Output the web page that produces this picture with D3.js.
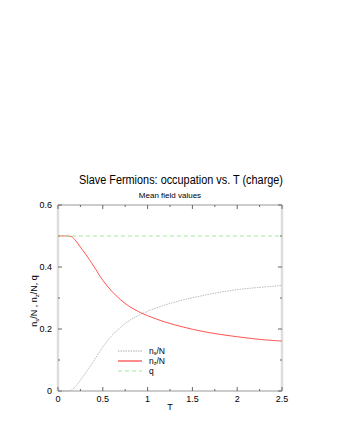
<!DOCTYPE html>
<html>
<head>
<meta charset="utf-8">
<script src="https://cdn.jsdelivr.net/npm/d3@7"></script>
<style>
  body { margin: 0; background: #fff; }
  svg text { font-family: "Liberation Sans", Arial, sans-serif; fill: #000; }
</style>
</head>
<body>
<svg id="chart" width="340" height="440"></svg>
<script>
// values
let temps = [0, 0.1, 0.15, 0.2, 0.25, 0.3, 0.35, 0.4, 0.5, 0.6, 0.7, 0.8, 0.9, 1.0, 1.2, 1.4, 1.6, 1.8, 2.0, 2.2, 2.4, 2.5];
let nS = [0, 0, 0.003, 0.016, 0.035, 0.055, 0.076, 0.097, 0.142, 0.178, 0.206, 0.228, 0.244, 0.257, 0.278, 0.294, 0.307, 0.318, 0.327, 0.333, 0.338, 0.341];
let nZ = [0.5, 0.5, 0.498, 0.484, 0.464, 0.445, 0.424, 0.402, 0.357, 0.322, 0.294, 0.272, 0.256, 0.243, 0.222, 0.206, 0.193, 0.183, 0.175, 0.168, 0.163, 0.161];
let qVals = [0.5, 0.5, 0.5, 0.5, 0.5, 0.5, 0.5, 0.5, 0.5, 0.5, 0.5, 0.5, 0.5, 0.5, 0.5, 0.5, 0.5, 0.5, 0.5, 0.5, 0.5, 0.5];
let xTicks = [0, 0.5, 1, 1.5, 2, 2.5];
let yTicks = [0, 0.2, 0.4, 0.6];

let svg = d3.select('#chart');
let plotL = 58, plotR = 282, plotT = 205, plotB = 391;

let x = d3.scaleLinear().domain([0, 2.5]).range([plotL, plotR]);
let y = d3.scaleLinear().domain([0, 0.6]).range([plotB, plotT]);

// titles
svg.append('text').attr('x', 79).attr('y', 184)
  .attr('textLength', 204).attr('lengthAdjust', 'spacingAndGlyphs')
  .style('font-size', '12.5px').text('Slave Fermions: occupation vs. T (charge)');
svg.append('text').attr('x', 170).attr('y', 198).attr('text-anchor', 'middle')
  .style('font-size', '8px').text('Mean field values');

// frame
svg.append('line').attr('x1', plotL).attr('x2', plotR).attr('y1', plotT).attr('y2', plotT)
  .attr('stroke', '#999').attr('stroke-width', 1);
svg.append('line').attr('x1', plotL).attr('x2', plotR).attr('y1', plotB).attr('y2', plotB)
  .attr('stroke', '#999').attr('stroke-width', 1);
svg.append('line').attr('x1', plotL).attr('x2', plotL).attr('y1', plotT).attr('y2', plotB)
  .attr('stroke', '#ddd').attr('stroke-width', 2.5);
svg.append('line').attr('x1', plotR).attr('x2', plotR).attr('y1', plotT).attr('y2', plotB)
  .attr('stroke', '#ddd').attr('stroke-width', 2.5);

// ticks (inward, on all sides)
let xMinor = d3.range(0, 2.51, 0.25);
let yMinor = d3.range(0, 0.61, 0.1);
let tickG = svg.append('g').attr('stroke', '#666').attr('stroke-width', 1);
xMinor.forEach((t) => {
  let len = xTicks.some((m) => Math.abs(m - t) < 1e-6) ? 4 : 2;
  tickG.append('line').attr('x1', x(t)).attr('x2', x(t)).attr('y1', plotB).attr('y2', plotB - len);
  tickG.append('line').attr('x1', x(t)).attr('x2', x(t)).attr('y1', plotT).attr('y2', plotT + len);
});
yMinor.forEach((t) => {
  let len = yTicks.some((m) => Math.abs(m - t) < 1e-6) ? 4 : 2;
  tickG.append('line').attr('x1', plotL).attr('x2', plotL + len).attr('y1', y(t)).attr('y2', y(t));
  tickG.append('line').attr('x1', plotR).attr('x2', plotR - len).attr('y1', y(t)).attr('y2', y(t));
});

// tick labels
xTicks.forEach((t) => {
  svg.append('text').attr('x', x(t)).attr('y', plotB + 11).attr('text-anchor', 'middle')
    .style('font-size', '9px').text(t);
});
yTicks.forEach((t) => {
  svg.append('text').attr('x', plotL - 6).attr('y', y(t) + 3).attr('text-anchor', 'end')
    .style('font-size', '9px').text(t);
});

// axis titles
svg.append('text').attr('x', 170).attr('y', 410).attr('text-anchor', 'middle')
  .style('font-size', '9px').text('T');
let yl = svg.append('text').attr('transform', 'translate(37,301) rotate(-90)')
  .attr('text-anchor', 'middle').style('font-size', '9px');
yl.append('tspan').text('n');
yl.append('tspan').attr('dy', 2).style('font-size', '6px').text('s');
yl.append('tspan').attr('dy', -2).text('/N , n');
yl.append('tspan').attr('dy', 2).style('font-size', '6px').text('z');
yl.append('tspan').attr('dy', -2).text('/N, q');

// series
let series = [
  {name: 's', vals: nS, color: '#aaa', dash: '1.5,1', width: 0.8},
  {name: 'z', vals: nZ, color: '#ff4040', dash: 'none', width: 0.9},
  {name: 'q', vals: qVals, color: '#a0e8a0', dash: '4,3', width: 1}
];

let line = d3.line().curve(d3.curveCatmullRom.alpha(0.5));
series.forEach((s) => {
  let pts = temps.map((t, i) => [x(t), y(s.vals[i])]);
  svg.append('path').attr('d', line(pts)).attr('fill', 'none')
    .attr('stroke', s.color).attr('stroke-width', s.width)
    .attr('stroke-dasharray', s.dash);
});

// legend
let legendY = [351, 361, 371];
series.forEach((s, i) => {
  let ly = legendY[i];
  svg.append('line').attr('x1', 118).attr('x2', 142).attr('y1', ly).attr('y2', ly)
    .attr('stroke', s.color).attr('stroke-width', 1.2).attr('stroke-dasharray', s.dash);
  let t = svg.append('text').attr('x', 149).attr('y', ly + 2.5).style('font-size', '8.5px');
  if (s.name === 'q') {
    t.text('q');
  } else {
    t.append('tspan').text('n');
    t.append('tspan').attr('dy', 1.5).style('font-size', '5.5px').text(s.name);
    t.append('tspan').attr('dy', -1.5).text('/N');
  }
});
</script>
</body>
</html>
